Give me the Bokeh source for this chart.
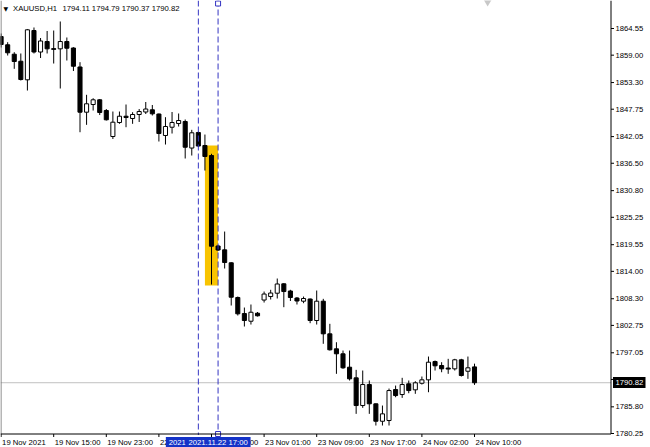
from bokeh.plotting import figure
from bokeh.models import ColumnDataSource, Range1d, Label
from bokeh.core.properties import value
from bokeh.embed import file_html
from bokeh.resources import INLINE

# ---- XAUUSD, H1 candles (19 Nov 2021 07:00 .. 24 Nov 2021 10:00) ----
symbol = "XAUUSD,H1"

opens = [1862.88, 1861.16, 1859.20, 1857.74, 1853.87, 1864.13, 1859.66, 1861.84, 1860.32, 1860.32,
         1861.84, 1860.49, 1856.54, 1847.13, 1848.73, 1849.71, 1847.48, 1842.07, 1844.98, 1846.29,
         1845.82, 1846.65, 1847.17, 1847.63, 1846.75, 1842.28, 1844.00, 1844.77, 1845.19, 1839.67,
         1842.90, 1840.20, 1838.11, 1819.28, 1818.48, 1815.78, 1808.56, 1805.22, 1803.62, 1805.29,
         1808.03, 1808.76, 1809.45, 1811.41, 1809.91, 1808.45, 1807.79, 1808.24, 1803.77, 1807.79,
         1801.00, 1797.88, 1796.84, 1794.05, 1791.84, 1786.07, 1790.44, 1786.43, 1782.80, 1782.95,
         1789.40, 1788.36, 1790.59, 1789.34, 1790.71, 1791.42, 1795.23, 1794.40, 1793.88, 1793.71,
         1795.59, 1793.21, 1794.11]
highs = [1863.51, 1861.70, 1859.62, 1859.35, 1864.45, 1864.76, 1862.57, 1864.03, 1864.13, 1866.01,
         1862.68, 1860.66, 1857.54, 1850.75, 1850.04, 1849.87, 1847.79, 1847.27, 1847.27, 1848.73,
         1847.13, 1847.79, 1849.25, 1848.63, 1846.86, 1846.09, 1847.17, 1846.86, 1845.61, 1843.46,
         1843.11, 1842.48, 1838.47, 1819.48, 1822.29, 1815.90, 1808.76, 1806.47, 1807.10, 1805.54,
         1809.80, 1810.16, 1812.51, 1811.53, 1810.16, 1808.66, 1808.76, 1808.35, 1810.01, 1808.28,
         1803.08, 1799.25, 1797.52, 1797.52, 1793.50, 1793.36, 1791.28, 1786.49, 1786.07, 1789.61,
         1790.23, 1791.84, 1791.28, 1791.13, 1792.11, 1796.27, 1795.44, 1795.09, 1795.79, 1795.79,
         1795.79, 1796.27, 1794.79]
lows = [1860.59, 1858.93, 1856.16, 1853.73, 1851.64, 1859.35, 1858.41, 1859.35, 1857.26, 1852.06,
        1857.89, 1855.70, 1842.96, 1844.50, 1847.48, 1846.54, 1845.40, 1841.55, 1844.71, 1844.00,
        1844.71, 1845.09, 1846.75, 1846.44, 1841.03, 1840.40, 1842.69, 1844.15, 1837.49, 1838.11,
        1839.88, 1834.99, 1811.26, 1818.23, 1814.59, 1806.89, 1804.81, 1802.52, 1802.93, 1804.60,
        1807.51, 1808.14, 1808.35, 1806.54, 1807.83, 1807.10, 1807.37, 1803.21, 1802.93, 1798.92,
        1797.52, 1792.67, 1793.71, 1791.28, 1784.34, 1785.59, 1784.34, 1781.91, 1781.91, 1781.91,
        1787.80, 1787.67, 1788.63, 1788.51, 1790.44, 1788.84, 1793.36, 1793.00, 1792.67, 1793.36,
        1792.11, 1791.63, 1790.37]
closes = [1861.22, 1859.49, 1857.68, 1853.93, 1864.28, 1859.66, 1861.95, 1860.32, 1860.26, 1861.84,
          1860.45, 1856.70, 1847.13, 1848.88, 1849.71, 1847.07, 1845.55, 1845.05, 1846.29, 1846.02,
          1846.65, 1847.27, 1847.79, 1846.79, 1842.69, 1844.15, 1844.98, 1845.40, 1839.84, 1842.84,
          1840.09, 1837.91, 1819.23, 1818.44, 1815.84, 1808.62, 1805.16, 1803.77, 1805.49, 1804.75,
          1809.28, 1809.49, 1811.37, 1809.80, 1808.56, 1807.83, 1808.35, 1803.77, 1807.79, 1801.00,
          1797.67, 1796.84, 1793.92, 1791.63, 1786.07, 1790.44, 1786.43, 1782.80, 1784.34, 1789.19,
          1788.15, 1790.44, 1789.19, 1790.80, 1791.42, 1795.09, 1794.34, 1793.71, 1793.71, 1795.59,
          1792.32, 1793.92, 1790.82]

# time scale: one label every 8 bars
time_tick_bars = [0, 8, 16, 24, 32, 40, 48, 56, 64, 72]
time_tick_labels = ["19 Nov 2021", "19 Nov 15:00", "19 Nov 23:00", "22 Nov 08:00", "22 Nov 16:00",
                    "23 Nov 01:00", "23 Nov 09:00", "23 Nov 17:00", "24 Nov 02:00", "24 Nov 10:00"]

price_ticks = [1864.55, 1859.00, 1853.30, 1847.75, 1842.05, 1836.50, 1830.80, 1825.25, 1819.55,
               1814.00, 1808.30, 1802.75, 1797.05, 1791.50, 1785.80, 1780.25]

# vertical time markers and the highlighted zone
marker_bars = [30, 33]
marker_times = ["2021.11.22 14:00", "2021.11.22 17:00"]
zone_bars = [31, 33]
zone_prices = [1840.20, 1811.05]

# ---- layout: the plot area covers the whole canvas, the scales are drawn inside it ----
W, H = 650, 447
BAR_PX = 6.575                 # horizontal pixels per bar
PRICE_TOP = 1870.38            # price at the top edge
PRICE_AT_AXIS = 1780.25        # price at the time-scale line
AXIS_X, AXIS_Y = 610.5, 433.5  # price-scale line / time-scale line (pixels)
PX_PER_PRICE = 433.0 / (PRICE_TOP - PRICE_AT_AXIS)
X_START = -0.6 / BAR_PX


def bx(px):
    """horizontal pixel -> bar coordinate"""
    return X_START + px / BAR_PX


def py(pix):
    """vertical pixel (from the top) -> price"""
    return PRICE_TOP - pix / PX_PER_PRICE


FONT = value("Liberation Sans")
FS = "7.7px"
MARK_BLUE = "#3434c2"
LABEL_BLUE = "#1433c8"

p = figure(width=W, height=H, x_range=Range1d(bx(0), bx(W)), y_range=Range1d(py(H), py(0)),
           output_backend="svg", toolbar_location=None, x_axis_location=None, y_axis_location=None,
           min_border=0, background_fill_color="white", border_fill_color="white",
           outline_line_color=None)
p.xgrid.visible = False
p.ygrid.visible = False

# bid line
p.segment(x0=[bx(0)], x1=[bx(AXIS_X)], y0=[closes[-1]], y1=[closes[-1]],
          line_color="#c0c0c0", line_width=1)

# highlighted zone behind the candles
p.quad(left=[zone_bars[0]], right=[zone_bars[1]], top=[zone_prices[0]], bottom=[zone_prices[1]],
       fill_color="#f8c400", line_color=None)

# candles
n = len(opens)
idx = list(range(n))
src = ColumnDataSource(dict(
    x=idx, o=opens, h=highs, l=lows, c=closes,
    top=[max(o, c) for o, c in zip(opens, closes)],
    bottom=[min(o, c) for o, c in zip(opens, closes)],
    fill=["white" if c > o else "black" for o, c in zip(opens, closes)],
))
p.segment(x0="x", y0="h", x1="x", y1="l", line_color="black", line_width=1, source=src)
p.vbar(x="x", width=0.62, top="top", bottom="bottom", fill_color="fill", line_color="black",
       line_width=1, source=src)
doji = [i for i in idx if abs(opens[i] - closes[i]) < 0.2]
p.segment(x0=[i - 0.36 for i in doji], x1=[i + 0.36 for i in doji],
          y0=[closes[i] for i in doji], y1=[closes[i] for i in doji],
          line_color="black", line_width=1)

# dashed vertical time markers
p.segment(x0=marker_bars, x1=marker_bars, y0=[py(0)] * 2, y1=[py(AXIS_Y + 1)] * 2,
          line_color=MARK_BLUE, line_dash="6 3", line_width=1)
# selection handles on the right marker
p.scatter(x=[marker_bars[1], marker_bars[1]], y=[py(3), py(AXIS_Y)],
          marker="square", size=5, fill_color="white", line_color=MARK_BLUE, line_width=1)

# chart shift marker
p.scatter(x=[n + 1], y=[py(1.5)], marker="inverted_triangle", size=8,
          fill_color="#c8c8c8", line_color=None)

# left border
p.segment(x0=[bx(0.5)], x1=[bx(0.5)], y0=[py(0)], y1=[py(AXIS_Y)], line_color="#6e6e6e",
          line_width=1)

# ---- price scale ----
p.segment(x0=[bx(AXIS_X)], x1=[bx(AXIS_X)], y0=[py(0)], y1=[py(AXIS_Y)], line_color="black",
          line_width=1)
p.segment(x0=[bx(AXIS_X)] * len(price_ticks), x1=[bx(AXIS_X + 3)] * len(price_ticks),
          y0=price_ticks, y1=price_ticks, line_color="black", line_width=1)
p.text(x=[bx(615)] * len(price_ticks), y=price_ticks, text=[f"{t:.2f}" for t in price_ticks],
       text_align="left", text_baseline="middle", text_font=FONT, text_font_size=FS,
       text_color="black")

# current price box
p.quad(left=[bx(612.5)], right=[bx(645)], top=[py(376.5)], bottom=[py(387.5)],
       fill_color="black", line_color=None)
p.text(x=[bx(615)], y=[closes[-1]], text=[f"{closes[-1]:.2f}"], text_align="left",
       text_baseline="middle", text_font=FONT, text_font_size=FS, text_color="white")

# ---- time scale ----
p.segment(x0=[bx(0)], x1=[bx(AXIS_X)], y0=[py(AXIS_Y)], y1=[py(AXIS_Y)], line_color="black",
          line_width=1)
p.segment(x0=time_tick_bars, x1=time_tick_bars, y0=[py(AXIS_Y)] * len(time_tick_bars),
          y1=[py(AXIS_Y + 3)] * len(time_tick_bars), line_color="black", line_width=1)
p.text(x=time_tick_bars, y=[py(441.5)] * len(time_tick_bars), text=time_tick_labels, x_offset=1,
       text_align="left", text_baseline="middle", text_font=FONT, text_font_size=FS,
       text_color="black")

# time labels of the two markers (the later one on top)
half_box = 32.5 / BAR_PX
for b, t in zip(marker_bars, marker_times):
    p.quad(left=[b - half_box], right=[b + half_box], top=[py(436.5)], bottom=[py(H)],
           fill_color=LABEL_BLUE, line_color=None)
    p.text(x=[b], y=[py(442)], text=[t], text_align="center", text_baseline="middle",
           text_font=FONT, text_font_size=FS, text_color="white")

# ---- header ----
header_y = py(7.5)
p.add_layout(Label(x=3, x_units="screen", y=header_y, text="\u25bc", text_align="left",
                   text_baseline="middle", text_font="DejaVu Sans", text_font_size="6px",
                   text_color="black"))
p.add_layout(Label(x=12.5, x_units="screen", y=header_y, text=symbol, text_align="left",
                   text_baseline="middle", text_font="Liberation Sans", text_font_size=FS,
                   text_color="black"))
ohlc = f"{opens[-1]:.2f} {highs[-1]:.2f} {lows[-1]:.2f} {closes[-1]:.2f}"
p.add_layout(Label(x=62, x_units="screen", y=header_y, text=ohlc, text_align="left",
                   text_baseline="middle", text_font="Liberation Sans", text_font_size=FS,
                   text_color="black"))

open("out.html", "w").write(file_html(p, INLINE))
